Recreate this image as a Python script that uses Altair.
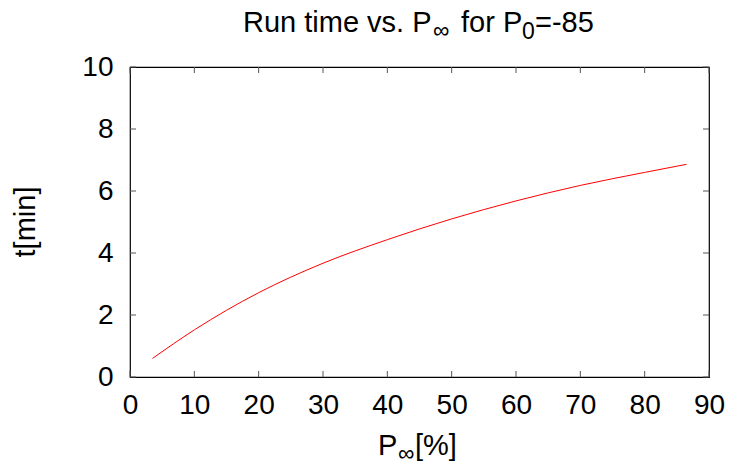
import altair as alt
import pandas as pd

# ---- data ----
p_inf = [3.5, 10, 20, 30, 40, 50, 60, 70, 80, 86.5]
t_min = [0.6, 1.52, 2.72, 3.67, 4.43, 5.1, 5.68, 6.18, 6.6, 6.86]
x_ticks = [0, 10, 20, 30, 40, 50, 60, 70, 80, 90]
y_ticks = [0, 2, 4, 6, 8, 10]

W, H = 579, 310
FONT = "Liberation Sans"
FS = 28      # tick labels
TF = 29      # titles
SUB = 23     # subscripts
TICK_COLOR = "#555555"

xs = alt.Scale(domain=[0, 90], nice=False, zero=False)
ys = alt.Scale(domain=[0, 10], nice=False, zero=False)

ax_x = alt.Axis(values=x_ticks, domain=False, ticks=False, grid=False,
                labelFontSize=FS, labelFont=FONT, labelColor="black",
                labelPadding=14, labelOverlap=False, labelFlush=False, title=None)
ax_y = alt.Axis(values=y_ticks, domain=False, ticks=False, grid=False,
                labelFontSize=FS, labelFont=FONT, labelColor="black",
                labelPadding=17, labelOverlap=False, labelFlush=False, title=None)

curve_df = pd.DataFrame({"P": p_inf, "t": t_min})
curve = alt.Chart(curve_df).mark_line(
    color="#ff0000", strokeWidth=1, interpolate="monotone"
).encode(
    x=alt.X("P:Q", scale=xs, axis=ax_x),
    y=alt.Y("t:Q", scale=ys, axis=ax_y),
)

xt = pd.DataFrame({"v": x_ticks})
yt = pd.DataFrame({"v": y_ticks})
TL = 6

bottom_ticks = alt.Chart(xt).mark_rule(color=TICK_COLOR, strokeWidth=1).encode(
    x=alt.X("v:Q", scale=xs, axis=ax_x), y=alt.value(H), y2=alt.value(H - TL))
top_ticks = alt.Chart(xt).mark_rule(color=TICK_COLOR, strokeWidth=1).encode(
    x=alt.X("v:Q", scale=xs, axis=ax_x), y=alt.value(0), y2=alt.value(TL))
left_ticks = alt.Chart(yt).mark_rule(color=TICK_COLOR, strokeWidth=1).encode(
    y=alt.Y("v:Q", scale=ys, axis=ax_y), x=alt.value(0), x2=alt.value(TL))
right_ticks = alt.Chart(yt).mark_rule(color=TICK_COLOR, strokeWidth=1).encode(
    y=alt.Y("v:Q", scale=ys, axis=ax_y), x=alt.value(W), x2=alt.value(W - TL))

one = pd.DataFrame({"a": [0]})


def label(txt, x, y, size=TF, angle=0, align="left"):
    return alt.Chart(one).mark_text(
        font=FONT, fontSize=size, color="black", align=align,
        baseline="alphabetic", angle=angle
    ).encode(x=alt.value(x), y=alt.value(y), text=alt.value(txt))


# title: "Run time vs. P∞ for P0=-85" (plot origin at 130,67)
TB = -35
title_parts = [
    label("Run time vs. P", 113, TB),
    label("\u221e", 303, TB + 6, size=SUB),
    label("for P", 331, TB),
    label("0", 392, TB + 7, size=SUB),
    label("=-85", 405, TB),
]
# x axis title "P∞[%]"
XB = 388
xtitle_parts = [
    label("P", 248, XB),
    label("\u221e", 268, XB + 6, size=SUB),
    label("[%]", 285, XB),
]
# y axis title
ytitle = label("t[min]", -95, 155, angle=270, align="center")

chart = alt.layer(
    curve, bottom_ticks, top_ticks, left_ticks, right_ticks,
    *title_parts, *xtitle_parts, ytitle
).properties(
    width=W, height=H,
    padding={"left": 130, "top": 67, "right": 23, "bottom": 88},
    autosize=alt.AutoSizeParams(type="none"),
).configure_view(stroke="black", strokeWidth=1.2)

chart.save("out.html", embed_options={"renderer": "svg", "actions": False})
